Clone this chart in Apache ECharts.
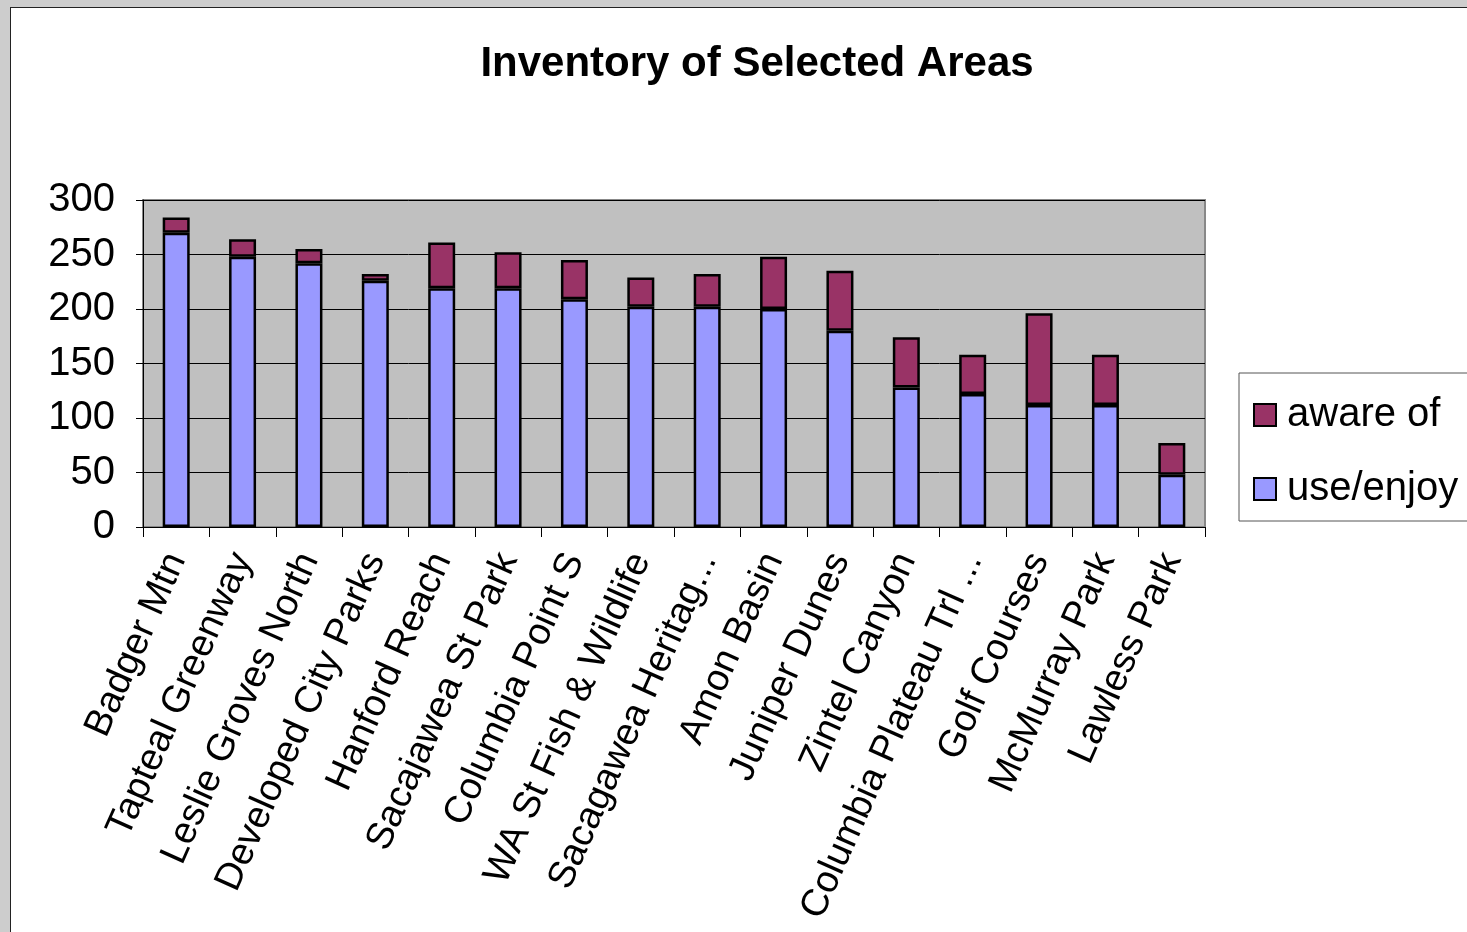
<!DOCTYPE html>
<html>
<head>
<meta charset="utf-8">
<script src="https://cdn.jsdelivr.net/npm/echarts@6/dist/echarts.min.js"></script>
<style>
  html, body { margin: 0; padding: 0; width: 1467px; height: 932px; background: #cdcdcd; overflow: hidden; }
  #frame { position: absolute; left: 10px; top: 7px; width: 1470px; height: 940px; background: #fff; border: 1px solid #222; }
  #main { position: absolute; left: 0; top: 0; width: 1467px; height: 932px; }
</style>
</head>
<body>
<div id="frame"></div>
<div id="main"></div>
<script>
// 分类
var categories = [
  "Badger Mtn", "Tapteal Greenway", "Leslie Groves North", "Developed City Parks",
  "Hanford Reach", "Sacajawea St Park", "Columbia Point S", "WA St Fish & Wildlife",
  "Sacagawea Heritag...", "Amon Basin", "Juniper Dunes", "Zintel Canyon",
  "Columbia Plateau Trl ...", "Golf Courses", "McMurray Park", "Lawless Park"
];
// use/enjoy 数值
var useEnjoy = [270, 248, 242, 226, 219, 219, 209, 202, 202, 200, 180, 128, 122, 112, 112, 48];
// aware of 数值（叠加在上面）
var awareOf = [14, 16, 13, 6, 42, 33, 36, 27, 30, 48, 55, 46, 36, 84, 46, 29];
// y轴刻度
var yTicks = [0, 50, 100, 150, 200, 250, 300];

var chart = echarts.init(document.getElementById("main"));

var option = {
  backgroundColor: "transparent",
  animation: false,
  title: {
    text: "Inventory of Selected Areas",
    left: 752,
    textAlign: "center",
    top: 38,
    textStyle: {
      fontFamily: "Liberation Sans Narrow, Liberation Sans, Arial",
      fontWeight: "bold",
      fontSize: 42,
      color: "#000"
    }
  },
  legend: {
    orient: "vertical",
    left: 1239,
    top: 373,
    data: ["aware of", "use/enjoy"],
    backgroundColor: "#fff",
    borderColor: "#555",
    borderWidth: 1,
    padding: [22, 40, 12, 14],
    itemWidth: 22,
    itemHeight: 22,
    itemGap: 34,
    icon: "rect",
    textStyle: { fontFamily: "Liberation Sans, Arial", fontSize: 40, color: "#000", padding: [0, 0, 0, 6] }
  },
  grid: {
    left: 143,
    top: 200,
    right: 262,
    bottom: 405,
    show: true,
    backgroundColor: "#c0c0c0",
    borderColor: "#888",
    borderWidth: 2
  },
  xAxis: {
    type: "category",
    data: categories,
    axisLine: { lineStyle: { color: "#000", width: 1 } },
    axisTick: { show: true, length: 10, lineStyle: { color: "#000" } },
    axisLabel: {
      rotate: 66,
      interval: 0,
      margin: 28,
      fontFamily: "Liberation Sans, Arial",
      fontSize: 38,
      color: "#000"
    }
  },
  yAxis: {
    type: "value",
    min: yTicks[0],
    max: yTicks[yTicks.length - 1],
    interval: 50,
    axisLine: { show: true, lineStyle: { color: "#000", width: 1 } },
    axisTick: { show: true, length: 7, lineStyle: { color: "#000" } },
    axisLabel: {
      margin: 28,
      fontFamily: "Liberation Sans, Arial",
      fontSize: 40,
      color: "#000"
    },
    splitLine: { show: true, lineStyle: { color: "#000", width: 1 } }
  },
  series: [
    {
      name: "use/enjoy",
      type: "bar",
      stack: "total",
      data: useEnjoy,
      barWidth: 27,
      itemStyle: { color: "#9999ff", borderColor: "#000", borderWidth: 2.5 }
    },
    {
      name: "aware of",
      type: "bar",
      stack: "total",
      data: awareOf,
      barWidth: 27,
      itemStyle: { color: "#993366", borderColor: "#000", borderWidth: 2.5 }
    }
  ]
};

chart.setOption(option);
</script>
</body>
</html>
